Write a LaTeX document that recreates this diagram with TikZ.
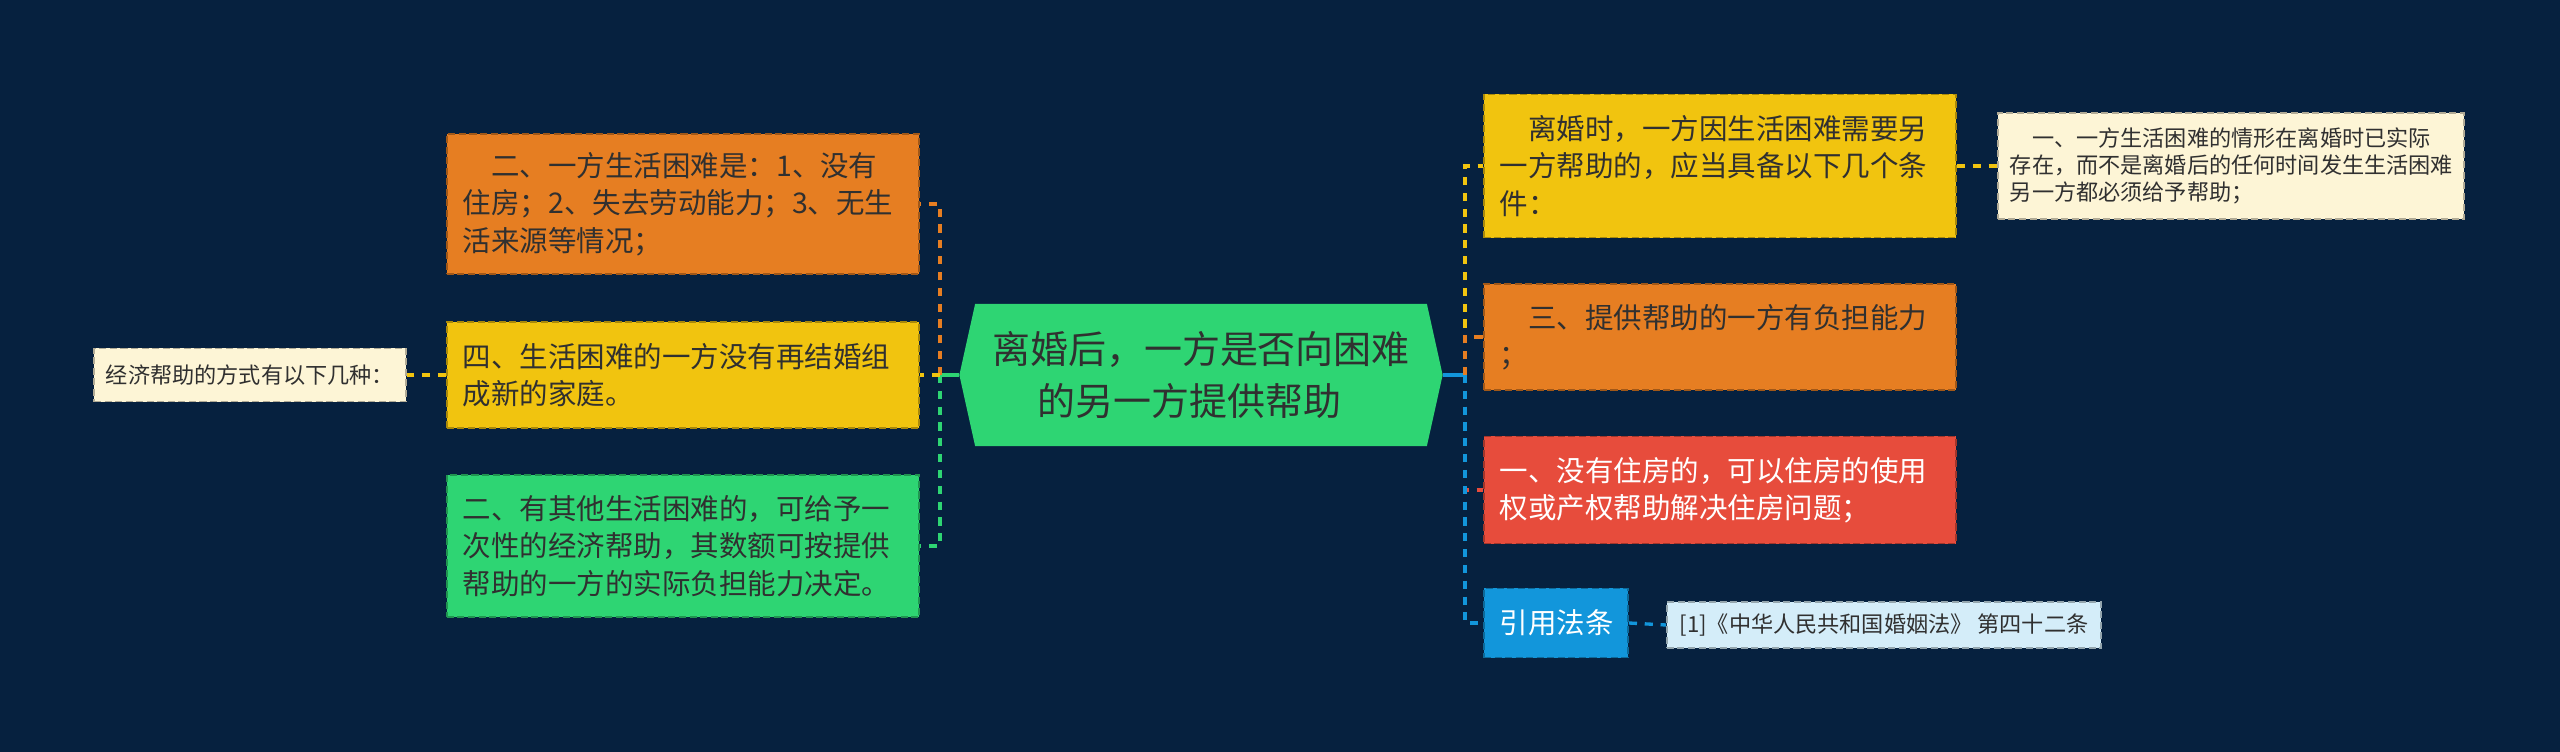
\documentclass[tikz,border=0pt]{standalone}
\usepackage{fontspec}
\setmainfont{Noto Sans CJK SC}
\usepackage{xcolor}
\usepackage{tikz}
\usetikzlibrary{shapes.symbols, positioning}

\definecolor{bgnavy}{HTML}{06213F}
\definecolor{mgreen}{HTML}{2ED573}
\definecolor{morange}{HTML}{E67E22}
\definecolor{myellow}{HTML}{F1C40F}
\definecolor{mred}{HTML}{E74C3C}
\definecolor{mblue}{HTML}{1296DB}
\definecolor{mcream}{HTML}{FDF5D6}
\definecolor{mice}{HTML}{D4EDF9}
\definecolor{inkdark}{HTML}{303030}

\begin{document}
\begin{tikzpicture}[
    x=0.01cm, y=-0.01cm,
    box/.style={draw=#1!70!black, fill=#1, dash pattern=on 2pt off 1pt, line width=0.5pt,
        inner xsep=0.16cm, inner ysep=0pt, align=left, text=inkdark,
        minimum width=4.72cm, text width=4.4cm,
        font=\fontsize{8.1pt}{10.6pt}\selectfont},
    note/.style={draw=#1!70!black, fill=#1, dash pattern=on 2pt off 1pt, line width=0.5pt,
        inner xsep=0.12cm, inner ysep=0pt, align=left, text=inkdark,
        font=\fontsize{6.3pt}{7.6pt}\selectfont},
    root/.style={shape=signal, signal to=west and east, signal pointer angle=155,
        fill=mgreen, text=inkdark, align=center, inner sep=0pt,
        minimum width=4.83cm, minimum height=1.42cm,
        font=\fontsize{10.8pt}{14.6pt}\selectfont},
    link/.style={dash pattern=on 2.3pt off 2.2pt, line width=0.95pt},
    stem/.style={line width=0.95pt}
]
% Background
\fill[bgnavy] (0,0) rectangle (2560,752);
\useasboundingbox (0,0) rectangle (2560,752);

% Root
\node[root] (root) at (1201,375) {离婚后，一方是否向困难\\的另一方提供帮助\hspace*{0.6em}};
\coordinate (ljoin) at (940,375);
\coordinate (rjoin) at (1465,375);

% Left branch
\node[box=morange, minimum height=1.40cm] (l1) at (683,204)
    {\hspace*{1em}二、一方生活困难是：1、没有\\住房；2、失去劳动能力；3、无生\\活来源等情况；};
\node[box=myellow, minimum height=1.06cm] (l2) at (683,375)
    {四、生活困难的一方没有再结婚组\\成新的家庭。};
\node[box=mgreen, minimum height=1.42cm] (l3) at (683,546)
    {二、有其他生活困难的，可给予一\\次性的经济帮助，其数额可按提供\\帮助的一方的实际负担能力决定。};
\node[note=mcream, minimum width=3.10cm, minimum height=0.53cm] (l0) at (250,375)
    {经济帮助的方式有以下几种：};

\draw[stem, mgreen] (root.west) -- (ljoin);
\draw[link, morange] (ljoin) |- (l1.east);
\draw[link, mgreen] (ljoin) |- (l3.east);
\draw[link, myellow] (ljoin) -- (l2.east);
\draw[link, myellow] (l2.west) -- (l0.east);

% Right branch
\node[box=myellow, minimum height=1.43cm] (r1) at (1720,166)
    {\hspace*{1em}离婚时，一方因生活困难需要另\\一方帮助的，应当具备以下几个条\\件：};
\node[box=morange, minimum height=1.06cm] (r2) at (1720,337)
    {\hspace*{1em}三、提供帮助的一方有负担能力\\；};
\node[box=mred, text=white, minimum height=1.07cm] (r3) at (1720,490)
    {一、没有住房的，可以住房的使用\\权或产权帮助解决住房问题；};
\node[box=mblue, text=white, minimum width=1.44cm, text width=1.12cm, minimum height=0.69cm] (r4) at (1556,623)
    {引用法条};
\node[note=mcream, minimum width=4.66cm, text width=4.42cm, minimum height=1.06cm] (rc) at (2231,166)
    {\hspace*{1em}一、一方生活困难的情形在离婚时已实际\\存在，而不是离婚后的任何时间发生生活困难\\另一方都必须给予帮助；};
\node[note=mice, minimum width=4.34cm, minimum height=0.46cm] (rb) at (1884,625)
    {[1]《中华人民共和国婚姻法》 第四十二条};

\draw[stem, mblue] (root.east) -- (rjoin);
\draw[link, myellow] (rjoin) |- (r1.west);
\draw[link, morange] (rjoin) |- (r2.west);
\draw[link, mred] (rjoin) |- (r3.west);
\draw[link, mblue] (rjoin) |- (r4.west);
\draw[link, myellow] (r1.east) -- (rc.west);
\draw[link, mblue] (r4.east) -- (rb.west);
\end{tikzpicture}
\end{document}
